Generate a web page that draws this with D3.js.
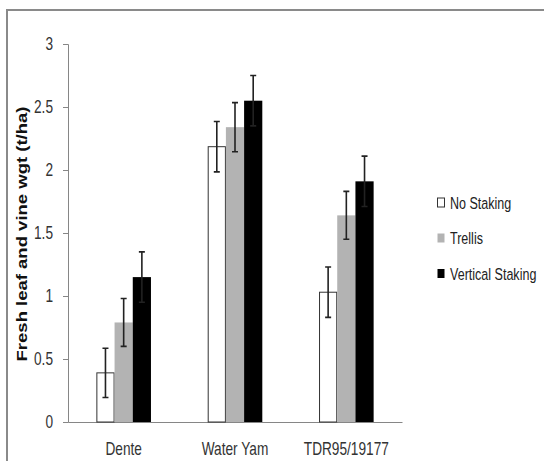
<!DOCTYPE html>
<html>
<head>
<meta charset="utf-8">
<script src="https://cdn.jsdelivr.net/npm/d3@7"></script>
<style>
  body { margin: 0; background: #fff; }
  text { font-family: "Liberation Sans", Arial, sans-serif; }
</style>
</head>
<body>
<div id="app"></div>
<script>
const categories = ["Dente", "Water Yam", "TDR95/19177"]
const series = ["No Staking", "Trellis", "Vertical Staking"]
const noStaking = [0.39, 2.185, 1.03]
const trellis = [0.79, 2.34, 1.64]
const vertical = [1.15, 2.55, 1.91]
const errNoStaking = [0.195, 0.2, 0.2]
const errTrellis = [0.19, 0.195, 0.19]
const errVertical = [0.2, 0.2, 0.2]
const yTicks = [0, 0.5, 1, 1.5, 2, 2.5, 3]

const values = [noStaking, trellis, vertical]
const errors = [errNoStaking, errTrellis, errVertical]
const fills = ["#ffffff", "#b3b3b3", "#000000"]
const strokes = ["#333333", "none", "none"]
const squash = 0.76

const rows = []
categories.forEach((c, i) => {
  series.forEach((s, j) => {
    rows.push({ cat: c, ser: s, v: values[j][i], e: errors[j][i], j })
  })
})

const svg = d3.select("#app").append("svg")
  .attr("width", 544)
  .attr("height", 461)

svg.append("rect")
  .attr("x", 7).attr("y", 10)
  .attr("width", 560).attr("height", 470)
  .attr("fill", "none").attr("stroke", "#8a8a8a").attr("stroke-width", 2)

const fx = d3.scaleBand().domain(categories).range([68, 402])
const fs = d3.scaleBand().domain(series).range([0, 54.6])
const fy = d3.scaleLinear().domain([0, 3]).range([422, 44])

const gy = svg.append("g")
  .attr("transform", "translate(68,0)")
  .call(d3.axisLeft(fy).tickValues(yTicks).tickFormat(d3.format("")).tickSize(5))
gy.select(".domain").attr("stroke", "#868686")
gy.selectAll(".tick line").attr("stroke", "#868686")
gy.selectAll(".tick text")
  .attr("x", null)
  .attr("font-size", 18).attr("fill", "#333")
  .attr("transform", `translate(-15,0) scale(${squash},1)`)

const gx = svg.append("g")
  .attr("transform", "translate(0,422)")
  .call(d3.axisBottom(fx).tickSize(0))
gx.select(".domain").attr("stroke", "#868686")
gx.selectAll(".tick text")
  .attr("y", null).attr("dy", null)
  .attr("font-size", 18).attr("fill", "#333")
  .attr("transform", `translate(0,33) scale(${squash},1)`)

const g = svg.append("g")
const x0 = d => fx(d.cat) + (fx.bandwidth() - 54.6) / 2 + fs(d.ser)

g.selectAll("rect")
  .data(rows)
  .join("rect")
    .attr("x", d => x0(d) + (d.j === 0 ? 0.5 : 0))
    .attr("y", d => fy(d.v))
    .attr("width", d => fs.bandwidth() - (d.j === 0 ? 1 : 0))
    .attr("height", d => fy(0) - fy(d.v))
    .attr("fill", d => fills[d.j])
    .attr("stroke", d => strokes[d.j])
    .attr("stroke-width", 1)

const eb = svg.append("g")
  .attr("stroke", "#222")
  .attr("stroke-width", 1.6)
  .attr("fill", "none")
eb.selectAll("path")
  .data(rows)
  .join("path")
    .attr("d", d => {
      const cx = x0(d) + fs.bandwidth() / 2
      const t = fy(d.v + d.e), b = fy(d.v - d.e)
      return `M${cx - 3},${t}h6M${cx},${t}V${b}M${cx - 3},${b}h6`
    })

// axis title: wide bold face, glyph height squashed like the source image
svg.append("text")
  .attr("transform", "translate(27,234) rotate(-90) scale(1,0.8)")
  .attr("text-anchor", "middle")
  .attr("font-size", 18.5)
  .attr("font-weight", "bold")
  .attr("fill", "#111")
  .text("Fresh leaf and vine wgt (t/ha)")

const lg = svg.append("g")
  .selectAll("g")
  .data(series)
  .join("g")
    .attr("transform", (d, i) => `translate(437,${202.5 + i * 35.5})`)
lg.append("rect")
  .attr("x", 0.5).attr("y", -4.5)
  .attr("width", 7).attr("height", 9)
  .attr("fill", (d, i) => fills[i])
  .attr("stroke", (d, i) => i === 0 ? "#333" : "none")
lg.append("text")
  .attr("transform", `translate(13,6) scale(${squash},1)`)
  .attr("font-size", 16.5)
  .attr("fill", "#222")
  .text(d => d)
</script>
</body>
</html>
